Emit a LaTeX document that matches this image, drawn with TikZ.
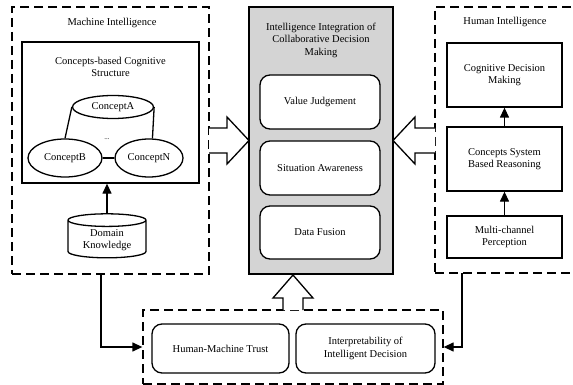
\documentclass[tikz,border=0pt]{standalone}
\usepackage{fontspec}
\setmainfont{Liberation Serif}
\usetikzlibrary{shapes.geometric,arrows.meta}
\definecolor{cgray}{RGB}{212,212,212}
\tikzset{
  x=1pt,y=-1pt,
  every node/.style={font=\fontsize{10.5}{12.5}\selectfont, align=center, inner sep=1pt},
  dbox/.style={draw, line width=1.3pt, dash pattern=on 9pt off 5pt, minimum width=#1},
  sbox/.style={draw, line width=1.3pt},
  rbox/.style={draw, line width=1.3pt, rounded corners=10pt, fill=white},
  cell/.style={draw, line width=1.3pt, ellipse, fill=white},
  arr/.style={line width=1.3pt, -{Triangle[length=10pt,width=9pt]}},
  hollow/.style={line width=1.3pt, fill=white, line join=miter},
}
\begin{document}
\begin{tikzpicture}
\clip (0,0) rectangle (573,385);
\fill[white] (0,0) rectangle (573,385);

% Machine intelligence
\node[dbox=197pt, minimum height=267pt] (mi) at (110.5,140.5) {};
\node (mit) at (112,23) {Machine Intelligence};
\node[sbox, minimum width=177pt, minimum height=141pt] (ccs) at (110.5,112.5) {};
\node (ccst) at (110.5,67) {Concepts-based Cognitive\\Structure};
\node[cell, minimum width=81pt, minimum height=23pt] (cA) at (113,107) {ConceptA};
\node[cell, minimum width=74pt, minimum height=38pt] (cB) at (65,158) {ConceptB};
\node[cell, minimum width=68pt, minimum height=38pt] (cN) at (149,158) {ConceptN};
\node (dots) at (107,139) {\fontsize{7}{8}\selectfont ...};
\draw[line width=1.3pt] (cA.west) -- (cB.north);
\draw[line width=1.3pt] (cA.east) -- (cN.80);
\draw[line width=1.3pt] (cB.east) -- (cN.west);
\node[cylinder, shape border rotate=90, draw, line width=1.3pt, aspect=0.25,
      minimum width=78pt, minimum height=44pt] (dk) at (107,240) {Domain\\Knowledge};
\draw[arr] (dk.top) -- (ccs.south -| dk.top);

% Central box
\node[sbox, fill=cgray, minimum width=144pt, minimum height=267pt] (cb) at (321,140.5) {};
\node (cbt) at (321,40) {Intelligence Integration of\\Collaborative Decision\\Making};
\node[rbox, minimum width=120pt, minimum height=54pt] (vj) at (320,102) {Value Judgement};
\node[rbox, minimum width=120pt, minimum height=54pt] (sa) at (320,168) {Situation Awareness};
\node[rbox, minimum width=120pt, minimum height=53pt] (df) at (320,232.5) {Data Fusion};

% Human intelligence
\node[dbox=145pt, minimum height=266pt] (hi) at (507.5,140) {};
\node (hit) at (505,22) {Human Intelligence};
\node[sbox, minimum width=115pt, minimum height=64pt] (cdm) at (504.5,75) {Cognitive Decision\\Making};
\node[sbox, minimum width=115pt, minimum height=64pt] (csr) at (504.5,159) {Concepts System\\Based Reasoning};
\node[sbox, minimum width=115pt, minimum height=42pt] (mcp) at (504.5,237) {Multi-channel\\Perception};
\draw[arr] (mcp.north) -- (csr.south);
\draw[arr] (csr.north) -- (cdm.south);

% Bottom box
\node[dbox=300pt, minimum height=74pt] (bb) at (293,347) {};
\node[rbox, minimum width=137pt, minimum height=49pt] (hmt) at (220.5,348.5) {Human-Machine Trust};
\node[rbox, minimum width=139pt, minimum height=49pt] (iid) at (365.5,348.5) {Interpretability of\\Intelligent Decision};

% hollow arrows
\draw[hollow] (209,128) -- (227,128) -- (227,117) -- (249,140.5) -- (227,164) -- (227,153) -- (209,153);
\draw[hollow] (435,128) -- (415,128) -- (415,117) -- (393,140.5) -- (415,164) -- (415,153) -- (435,153);
\draw[hollow] (283,310) -- (283,298) -- (273,298) -- (293,275) -- (313,298) -- (303,298) -- (303,310);

% side connectors
\coordinate (lk) at (101,274);
\coordinate (rk) at (462,273);
\draw[arr] (lk) |- (bb.west);
\draw[arr] (rk) |- (bb.east);
\end{tikzpicture}
\end{document}
